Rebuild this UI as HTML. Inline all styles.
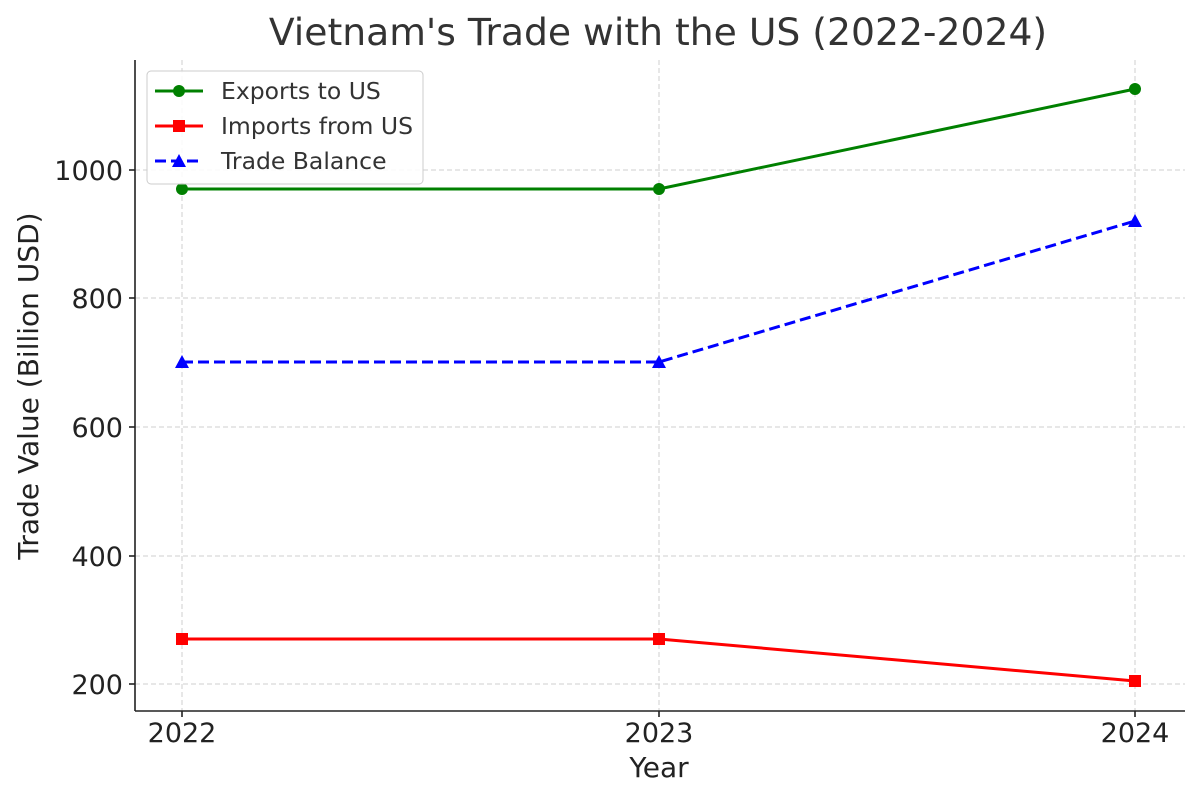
<!DOCTYPE html>
<html><head><meta charset="utf-8"><style>body{margin:0;background:#fff}</style></head><body>
<svg width="1200" height="801" xmlns="http://www.w3.org/2000/svg" font-family="DejaVu Sans, Liberation Sans, sans-serif">
<rect width="1200" height="801" fill="#fff"/>
<g stroke="#cfcfcf" stroke-width="1" stroke-dasharray="5,3">
<line x1="182" y1="60" x2="182" y2="711"/><line x1="659" y1="60" x2="659" y2="711"/><line x1="1135" y1="60" x2="1135" y2="711"/>
<line x1="135" y1="170" x2="1185" y2="170"/><line x1="135" y1="298" x2="1185" y2="298"/><line x1="135" y1="427" x2="1185" y2="427"/><line x1="135" y1="556" x2="1185" y2="556"/><line x1="135" y1="684" x2="1185" y2="684"/>
</g>
<g stroke="#222" stroke-width="1.6"><line x1="135" y1="60" x2="135" y2="711"/><line x1="135" y1="711" x2="1185" y2="711"/>
<line x1="129" y1="170" x2="135" y2="170"/><line x1="129" y1="298" x2="135" y2="298"/><line x1="129" y1="427" x2="135" y2="427"/><line x1="129" y1="556" x2="135" y2="556"/><line x1="129" y1="684" x2="135" y2="684"/>
<line x1="182" y1="711" x2="182" y2="717"/><line x1="659" y1="711" x2="659" y2="717"/><line x1="1135" y1="711" x2="1135" y2="717"/></g>
<g font-size="27" fill="#222" text-anchor="end">
<text x="123" y="180">1000</text><text x="123" y="308">800</text><text x="123" y="437">600</text><text x="123" y="566">400</text><text x="123" y="694">200</text></g>
<g font-size="27" fill="#222" text-anchor="middle">
<text x="182" y="742">2022</text><text x="659" y="742">2023</text><text x="1135" y="742">2024</text>
<text x="659" y="777" font-size="28">Year</text>
<text x="658" y="45" font-size="37.7" fill="#333">Vietnam's Trade with the US (2022-2024)</text>
<text transform="translate(38,386) rotate(-90)" font-size="28">Trade Value (Billion USD)</text></g>
<polyline points="182,189 659,189 1135,89" fill="none" stroke="#008000" stroke-width="3"/>
<g fill="#008000"><circle cx="182" cy="189" r="6"/><circle cx="659" cy="189" r="6"/><circle cx="1135" cy="89" r="6"/></g>
<polyline points="182,639 659,639 1135,681" fill="none" stroke="#ff0000" stroke-width="3"/>
<g fill="#ff0000"><rect x="176" y="633" width="12" height="12"/><rect x="653" y="633" width="12" height="12"/><rect x="1129" y="675" width="12" height="12"/></g>
<polyline points="182,362 659,362 1135,221" fill="none" stroke="#0000ff" stroke-width="3" stroke-dasharray="11,5"/>
<g fill="#0000ff"><polygon points="182,355 189,368 175,368"/><polygon points="659,355 666,368 652,368"/><polygon points="1135,214 1142,227 1128,227"/></g>
<rect x="147" y="71" width="276" height="113" rx="4" fill="#fff" fill-opacity="0.85" stroke="#ccc"/>
<line x1="155" y1="91" x2="203" y2="91" stroke="#008000" stroke-width="3"/><circle cx="179" cy="91" r="6" fill="#008000"/>
<line x1="155" y1="126" x2="203" y2="126" stroke="#ff0000" stroke-width="3"/><rect x="173" y="120" width="12" height="12" fill="#ff0000"/>
<line x1="155" y1="161" x2="203" y2="161" stroke="#0000ff" stroke-width="3" stroke-dasharray="11,5"/><polygon points="179,154 186,167 172,167" fill="#0000ff"/>
<g font-size="23.5" fill="#333"><text x="221" y="99">Exports to US</text><text x="221" y="134">Imports from US</text><text x="221" y="169">Trade Balance</text></g>
</svg></body></html>
